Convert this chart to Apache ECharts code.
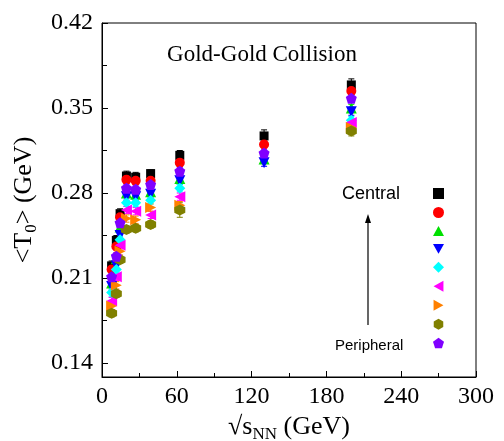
<!DOCTYPE html>
<html><head><meta charset="utf-8">
<script src="https://cdn.jsdelivr.net/npm/echarts@6/dist/echarts.min.js"></script>
<style>html,body{margin:0;padding:0;background:#fff}#c{width:504px;height:441px}</style>
</head><body><div id="c"></div>
<script>
const energies = [7.7, 11.5, 14.5, 19.6, 27, 39, 62.4, 130, 200];
const yTickLabels = [0.14, 0.21, 0.28, 0.35, 0.42];
const yMinorTicks = [0.175, 0.245, 0.315, 0.385];

const cls1 = [0.220, 0.241, 0.263, 0.294, 0.293, 0.296, 0.311, 0.327, 0.369];
const cls2 = [0.217, 0.236, 0.260, 0.291, 0.290, 0.290, 0.305, 0.320, 0.364];
const cls3 = [0.206, 0.226, 0.252, 0.280, 0.279, 0.281, 0.292, 0.308, 0.350];
const cls4 = [0.203, 0.220, 0.245, 0.277, 0.277, 0.279, 0.290, 0.305, 0.347];
const cls5 = [0.198, 0.217, 0.2415, 0.272, 0.272, 0.274, 0.284, null, 0.340];
const cls6 = [0.191, 0.211, 0.237, 0.266, 0.265, 0.262, 0.277, null, 0.338];
const cls7 = [0.187, 0.204, 0.232, 0.259, 0.258, 0.268, 0.270, null, 0.334];
const cls8 = [0.181, 0.197, 0.225, 0.250, 0.251, 0.254, 0.266, null, 0.331];
const cls9 = [0.211, 0.228, 0.2555, 0.284, 0.283, 0.287, 0.298, 0.313, 0.358];

const err1 = [0.004, 0.004, 0.004, 0.004, 0.004, 0.003, 0.004, 0.005, 0.005];
const err2 = [0.003, 0.003, 0.003, 0.003, 0.003, 0.003, 0.003, 0.003, 0.003];
const err3 = [0.003, 0.003, 0.003, 0.003, 0.003, 0.003, 0.003, 0.003, 0.003];
const err4 = [0.003, 0.003, 0.003, 0.003, 0.003, 0.003, 0.003, 0.003, 0.003];
const err5 = [0.003, 0.003, 0.003, 0.003, 0.003, 0.003, 0.003, null, 0.003];
const err6 = [0.003, 0.003, 0.003, 0.003, 0.003, 0.003, 0.003, null, 0.003];
const err7 = [0.003, 0.003, 0.003, 0.003, 0.003, 0.003, 0.003, null, 0.003];
const err8 = [0.003, 0.003, 0.003, 0.003, 0.003, 0.003, 0.006, null, 0.004];
const err9 = [0.003, 0.003, 0.003, 0.003, 0.003, 0.003, 0.003, 0.003, 0.003];

const seriesNames = ['c1','c2','c3','c4','c5','c6','c7','c8','c9'];
const seriesColors = ['#000000','#ff0000','#00e000','#0000ff','#00ffff','#ff00ff','#ff8000','#808000','#8000ff'];
const hexagon = 'path://M0,-1 L0.866,-0.5 L0.866,0.5 L0,1 L-0.866,0.5 L-0.866,-0.5 Z';
const pentagon = 'path://M0,-1 L0.951,-0.309 L0.588,0.809 L-0.588,0.809 L-0.951,-0.309 Z';
const triUp = 'path://M0,-1 L1,0.8 L-1,0.8 Z';
const triDown = 'path://M-1,-0.8 L1,-0.8 L0,1 Z';
const triLeft = 'path://M0.8,-1 L0.8,1 L-1,0 Z';
const triRight = 'path://M-0.8,-1 L-0.8,1 L1,0 Z';
const seriesSymbols = ['rect','circle',triUp,triDown,'diamond',triLeft,triRight,hexagon,pentagon];
const seriesSizes = [9,10,11,11,11,11,11,11,11];
const allVals = [cls1,cls2,cls3,cls4,cls5,cls6,cls7,cls8,cls9];
const allErrs = [err1,err2,err3,err4,err5,err6,err7,err8,err9];

const serif = "'Liberation Serif','Times New Roman',serif";
const sans = "'Liberation Sans',Arial,sans-serif";

const series = [];
allVals.forEach((vals, i) => {
  const errs = allErrs[i];
  const edata = [];
  energies.forEach((x, k) => { if (vals[k] != null) edata.push([x, vals[k] - errs[k], vals[k] + errs[k]]); });
  series.push({
    type: 'custom', name: seriesNames[i] + '_err', silent: true, z: 2,
    data: edata, encode: {x: 0, y: [1, 2]},
    renderItem: function (params, api) {
      const lo = api.coord([api.value(0), api.value(1)]);
      const hi = api.coord([api.value(0), api.value(2)]);
      const w = 3;
      const st = {stroke: seriesColors[i], lineWidth: 1};
      return {type: 'group', children: [
        {type: 'line', shape: {x1: lo[0], y1: lo[1], x2: hi[0], y2: hi[1]}, style: st},
        {type: 'line', shape: {x1: lo[0]-w, y1: lo[1], x2: lo[0]+w, y2: lo[1]}, style: st},
        {type: 'line', shape: {x1: hi[0]-w, y1: hi[1], x2: hi[0]+w, y2: hi[1]}, style: st}
      ]};
    }
  });
});
allVals.forEach((vals, i) => {
  const data = [];
  energies.forEach((x, k) => { if (vals[k] != null) data.push([x, vals[k]]); });
  series.push({
    type: 'scatter', name: seriesNames[i], data: data, z: 3,
    symbol: seriesSymbols[i], symbolSize: seriesSizes[i],
    itemStyle: {color: seriesColors[i], opacity: 1}
  });
});

const chart = echarts.init(document.getElementById('c'), null, {renderer: 'canvas'});
chart.setOption({
  animation: false,
  backgroundColor: '#fff',
  grid: {left: 102, right: 28, top: 23, bottom: 64, containLabel: false, outerBoundsMode: 'none',
    show: true, borderColor: '#000', borderWidth: 1, backgroundColor: 'transparent'},
  title: {text: 'Gold-Gold Collision', left: 257, top: 38, textAlign: 'center',
    textStyle: {fontFamily: serif, fontSize: 23, fontWeight: 'normal', color: '#000'}},
  legend: {
    data: seriesNames, orient: 'vertical', left: 428, top: 183,
    itemWidth: 11, itemHeight: 11, itemGap: 8,
    formatter: function () { return ''; },
    textStyle: {fontSize: 9, lineHeight: 11}, selectedMode: false
  },
  xAxis: {
    type: 'value', min: 0, max: 300, interval: 60,
    axisLine: {show: true, lineStyle: {color: '#000'}},
    axisTick: {show: true, inside: true, length: 6, lineStyle: {color: '#000'}},
    minorTick: {show: true, splitNumber: 2, length: 4, lineStyle: {color: '#000'}},
    splitLine: {show: false},
    axisLabel: {fontFamily: serif, fontSize: 24, color: '#000', margin: 8},
    name: '√{s|s}{sub|NN} (GeV)', nameLocation: 'middle', nameGap: 34,
    nameTextStyle: {fontFamily: serif, fontSize: 26, color: '#000', verticalAlign: 'top',
      rich: {s: {fontFamily: serif, fontSize: 26}, sub: {fontFamily: serif, fontSize: 17, verticalAlign: 'bottom', padding: [15,0,0,0]}}}
  },
  yAxis: [{
    type: 'value', min: 0.1285, max: 0.42,
    axisLine: {show: true, lineStyle: {color: '#000'}},
    axisTick: {show: true, inside: true, length: 6, customValues: yTickLabels, lineStyle: {color: '#000'}},
    splitLine: {show: false},
    axisLabel: {fontFamily: serif, fontSize: 24, color: '#000', margin: 9, customValues: yTickLabels,
      formatter: function (v) { return v.toFixed(2); }},
    name: '<T{sub|0}> (GeV)', nameLocation: 'middle', nameGap: 56, nameRotate: 90,
    nameTextStyle: {fontFamily: serif, fontSize: 26, color: '#000',
      rich: {sub: {fontFamily: serif, fontSize: 17, verticalAlign: 'bottom', padding: [15,0,0,0]}}}
  }, {
    type: 'value', min: 0.1285, max: 0.42, position: 'left',
    axisLine: {show: false},
    axisTick: {show: true, inside: true, length: 5, customValues: yMinorTicks, lineStyle: {color: '#000'}},
    axisLabel: {show: false, customValues: yMinorTicks},
    splitLine: {show: false}
  }],
  graphic: [
    {type: 'text', left: 342, top: 185, style: {text: 'Central', font: '18px ' + sans, fill: '#000'}},
    {type: 'text', left: 335, top: 338, style: {text: 'Peripheral', font: '15px ' + sans, fill: '#000'}},
    {type: 'line', shape: {x1: 368, y1: 325, x2: 368, y2: 221}, style: {stroke: '#000', lineWidth: 1.2}},
    {type: 'polygon', shape: {points: [[368, 214], [365, 223], [371, 223]]}, style: {fill: '#000'}}
  ],
  series: series
});
</script></body></html>
